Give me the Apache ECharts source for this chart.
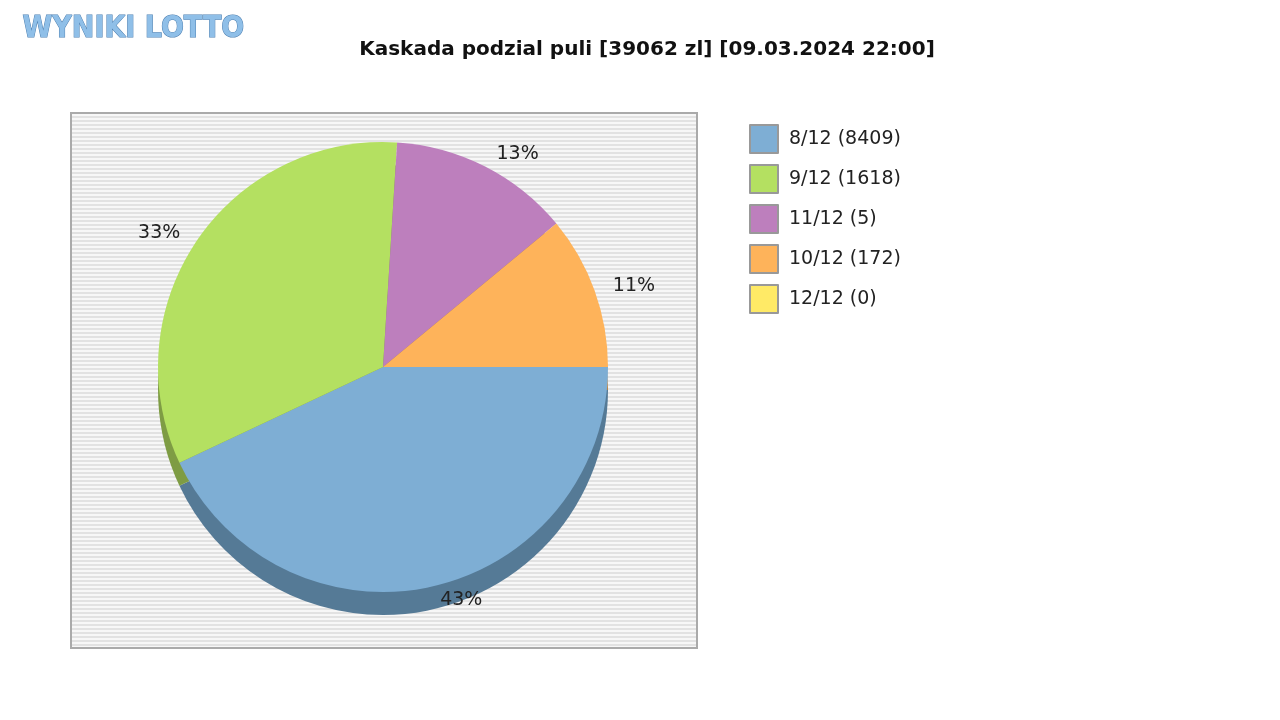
<!DOCTYPE html>
<html><head><meta charset="utf-8">
<script src="https://cdn.jsdelivr.net/npm/echarts@6/dist/echarts.min.js"></script>
<style>html,body{margin:0;background:#fff}#c{width:1280px;height:720px}</style>
</head><body><div id="c"></div>
<script>
var categories = ["8/12 (8409)", "9/12 (1618)", "11/12 (5)", "10/12 (172)", "12/12 (0)"];
var shares = [43, 33, 13, 11, 0];
var colors = ["#7eaed4", "#b4e061", "#bd7fbd", "#feb35a", "#ffea66"];
var shadeColors = ["#557a96", "#7e9c44", "#845984", "#b27e3f", "#b2a447"];

var stripe = document.createElement("canvas");
stripe.width = 4; stripe.height = 4;
var sc = stripe.getContext("2d");
sc.fillStyle = "#f7f7f7"; sc.fillRect(0, 0, 4, 4);
sc.fillStyle = "#e2e2e2"; sc.fillRect(0, 0, 4, 2);

var chart = echarts.init(document.getElementById("c"));
var main = categories.map(function (n, i) { return { name: n, value: shares[i], itemStyle: { color: colors[i] } }; });
var shade = categories.map(function (n, i) { return { name: n, value: shares[i], itemStyle: { color: shadeColors[i] } }; });
chart.setOption({
    animation: false,
    title: {
        text: "Kaskada podzial puli [39062 zl] [09.03.2024 22:00]",
        left: 642, top: 35, textAlign: "center",
        textStyle: { fontSize: 20, fontWeight: "bold", color: "#111", fontFamily: "DejaVu Sans" }
    },
    graphic: [
        { type: "rect", shape: { x: 71, y: 113, width: 626, height: 535 },
          style: { fill: { image: stripe, repeat: "repeat" }, stroke: "#aaa", lineWidth: 2 }, z: -10 },
        { type: "text", left: 22, top: 14,
          style: { text: "WYNIKI LOTTO", fill: "#8fbfe8", stroke: "#4d7fb0", lineWidth: 1,
                   font: "bold 30px DejaVu Sans Condensed" } }
    ],
    legend: {
        orient: "vertical", left: 744, top: 119, itemGap: 10,
        itemWidth: 28, itemHeight: 28, icon: "rect",
        itemStyle: { borderColor: "#999", borderWidth: 2 },
        textStyle: { fontSize: 19, color: "#222", fontFamily: "DejaVu Sans", padding: [0, 0, 0, 6] },
        data: categories
    },
    series: [
        { type: "pie", radius: 225, center: [383, 367], startAngle: 0, clockwise: true,
          label: { show: true, position: "outside", formatter: function (p) { return p.value > 0 ? p.value + "%" : ""; },
                   fontSize: 19, color: "#222", fontFamily: "DejaVu Sans" },
          labelLine: { show: false, length: 14, length2: 0 },
          data: main, z: 3 },
        { type: "pie", radius: 225, center: [383, 390], startAngle: 0, clockwise: true,
          silent: true, label: { show: false }, labelLine: { show: false }, data: shade, z: 1 }
    ]
});
</script></body></html>
